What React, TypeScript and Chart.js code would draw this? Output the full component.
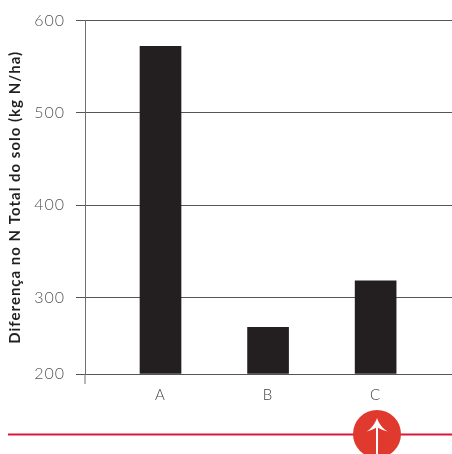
import React, { useEffect, useRef } from "react";
import { Chart, registerables, LinearScale } from "chart.js";

const categories = ["A", "B", "C"];
const differenceValues = [572, 261, 318];
const yTickValues = [600, 500, 400, 300, 200];
const axisTitle = "Diferença no N Total do solo (kg N/ha)";

// The reference's value axis has a compressed 200-300 interval.
const BREAK_VALUE = 300;
const BREAK_DECIMAL = 76.5 / 353.5;

class BrokenLinearScale extends LinearScale {
  static id = "brokenLinear";
  static defaults = LinearScale.defaults;
  getPixelForValue(v: number) {
    const d = v >= BREAK_VALUE
      ? BREAK_DECIMAL + ((v - BREAK_VALUE) / (this.max - BREAK_VALUE)) * (1 - BREAK_DECIMAL)
      : ((v - this.min) / (BREAK_VALUE - this.min)) * BREAK_DECIMAL;
    return this.getPixelForDecimal(d);
  }
}

Chart.register(...registerables, BrokenLinearScale);

const axisExtension = {
  id: "axisExtension",
  beforeDraw(chart: any) {
    chart.ctx.letterSpacing = "1px";
  },
  afterDraw(chart: any) {
    const { ctx, chartArea } = chart;
    ctx.save();
    ctx.strokeStyle = "#6f6f6f";
    ctx.lineWidth = 1;
    ctx.beginPath();
    ctx.moveTo(chartArea.left, chartArea.bottom);
    ctx.lineTo(chartArea.left, chartArea.bottom + 10);
    ctx.stroke();
    ctx.restore();
  },
};

export default function App() {
  const ref = useRef<HTMLCanvasElement>(null);
  useEffect(() => {
    const chart = new Chart(ref.current!, {
      type: "bar",
      data: {
        datasets: [
          {
            data: differenceValues.map((y, x) => ({ x, y })),
            backgroundColor: "#231f20",
            barThickness: 41,
            base: 200,
          },
        ],
      },
      plugins: [axisExtension],
      options: {
        animation: false,
        responsive: false,
        layout: { padding: { top: 20, left: 0, right: 0, bottom: 0 } },
        plugins: { legend: { display: false }, tooltip: { enabled: false } },
        scales: {
          x: {
            type: "linear",
            offset: false,
            min: -0.702,
            max: 2.71,
            afterFit: (s: any) => { s.height = 80; },
            grid: { display: false, drawTicks: false, offset: false },
            border: { display: false },
            ticks: {
              stepSize: 1,
              includeBounds: false,
              maxRotation: 0,
              padding: 12,
              color: "#444444",
              font: { family: "Lato", size: 15, weight: "300" },
              callback: (v: any) => categories[v as number] ?? "",
            },
          },
          y: {
            type: "brokenLinear",
            min: 200,
            max: 600,
            afterFit: (s: any) => { s.width = 85; },
            afterBuildTicks: (s: any) => { s.ticks = yTickValues.map((value) => ({ value })); },
            border: { color: "#6f6f6f", width: 1 },
            grid: { color: "#555555", lineWidth: 1, drawTicks: true, tickLength: 9, tickColor: "#555555" },
            ticks: {
              padding: 11,
              color: "#555555",
              font: { family: "Lato", size: 16, weight: "300" },
            },
            title: {
              display: true,
              text: axisTitle,
              color: "#231f20",
              padding: { top: 6, bottom: 0 },
              font: { family: "Lato", size: 15, weight: "bold" },
            },
          },
        } as any,
      },
    } as any);
    return () => chart.destroy();
  }, []);
  return (
    <div style={{ position: "absolute", left: 0, top: 0, width: 452, height: 454, overflow: "hidden", background: "#fff" }}>
      <canvas ref={ref} width={452} height={454} style={{ display: "block" }} />
      <svg width={452} height={454} style={{ position: "absolute", left: 0, top: 0 }}>
        <rect x={8} y={433.5} width={444} height={2} fill="#d7183a" />
        <circle cx={377} cy={434} r={24} fill="#e03a2e" />
        <rect x={376} y={424} width={2} height={30} fill="#fff" />
        <path d="M377 418 C379 424 383 429 388 431.5 C384 430.5 380 429.5 377 427 C374 429.5 370 430.5 366.5 431.5 C371 429 375 424 377 418 Z" fill="#fff" />
      </svg>
    </div>
  );
}
